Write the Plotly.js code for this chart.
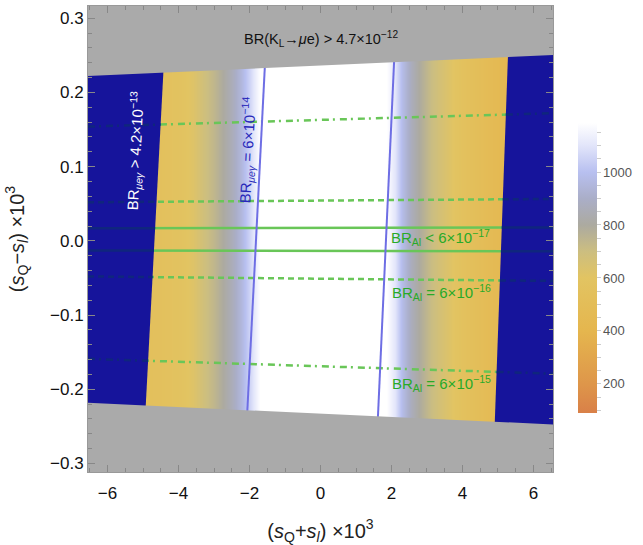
<!DOCTYPE html>
<html>
<head>
<meta charset="utf-8">
<script src="https://cdn.plot.ly/plotly-3.0.1.min.js"></script>
<style>html,body{margin:0;padding:0;background:#fff;}#chart{width:643px;height:545px;}</style>
</head>
<body>
<div id="chart"></div>
<script>
// ---------- data ----------
const xRange = [-6.55, 6.55];
const yRange = [-0.3115, 0.3165];

// density profile (value vs s_Q+s_l), constant along s_Q-s_l
const densityX = [-7, -5, -4.5, -3.9, -3.6, -3.3, -3.0, -2.75, -2.5, -2.25, -2.0, -1.8, -1.6, 0, 1.7, 1.9, 2.1, 2.3, 2.55, 2.8, 3.1, 3.5, 4.0, 4.6, 5.2, 7];
const densityZ = [540, 540, 550, 580, 620, 680, 740, 800, 865, 950, 1060, 1150, 1230, 1300, 1230, 1170, 1100, 980, 870, 790, 710, 640, 560, 490, 430, 400];

// excluded regions
const grayTopY = [0.222, 0.2505];       // boundary at left/right edges
const grayBottomY = [-0.2183, -0.2474];
const blueLeftEdgeX = [-4.43, -4.92];
const blueLeftEdgeY = [0.224, -0.219];
const blueRightEdgeX = [5.28, 4.91];
const blueRightEdgeY = [0.247, -0.244];

// BR(mu e gamma) = 6e-14 contours
const contourLeftX = [-1.57, -2.06];
const contourLeftY = [0.233, -0.227];
const contourRightX = [2.07, 1.62];
const contourRightY = [0.238, -0.235];

// BR(Al) lines: y at left and right edges
const alLabels = ['6e-15', '6e-16', '6e-17', '6e-17', '6e-16', '6e-15'];
const alLeftY = [0.154, 0.052, 0.017, -0.013, -0.048, -0.159];
const alRightY = [0.172, 0.0565, 0.018, -0.014, -0.054, -0.179];

const cbLabels = [200, 400, 600, 800, 1000];

// ---------- helpers ----------
const styleOf = {'6e-15': 'dashdot', '6e-16': 'dash', '6e-17': 'solid'};
const dashOf = {dashdot: '7px,4px,2px,5px', dash: '6px,4px', solid: 'solid'};
function lineY(i, x) {
  return alLeftY[i] + (alRightY[i] - alLeftY[i]) * (x - xRange[0]) / (xRange[1] - xRange[0]);
}
function edgeX(ex, ey, y) {
  return ex[0] + (ex[1] - ex[0]) * (y - ey[0]) / (ey[1] - ey[0]);
}
function crossX(i, ex, ey) {
  let x = edgeX(ex, ey, 0);
  for (let k = 0; k < 8; k++) x = edgeX(ex, ey, lineY(i, x));
  return x;
}
const yFar = [0.4, -0.4];

// colorbar tick marks every 50, labels every 200
const cbTickVals = [], cbTickText = [];
for (let v = 100; v <= 1150; v += 50) {
  cbTickVals.push(v);
  cbTickText.push(cbLabels.includes(v) ? String(v) : '');
}

const traces = [];
// density
traces.push({
  type: 'heatmap', x: densityX, y: [-0.4, 0.4], z: [densityZ, densityZ],
  zsmooth: 'best', zmin: 90, zmax: 1185, hoverinfo: 'skip',
  colorscale: [
    [0.0, 'rgb(217,128,72)'],
    [0.100, 'rgb(222,150,74)'],
    [0.283, 'rgb(229,182,78)'],
    [0.466, 'rgb(226,196,98)'],
    [0.557, 'rgb(204,190,128)'],
    [0.648, 'rgb(172,170,160)'],
    [0.740, 'rgb(170,174,200)'],
    [0.831, 'rgb(184,192,240)'],
    [0.922, 'rgb(226,229,250)'],
    [1.0, 'rgb(255,255,255)']
  ],
  colorbar: {
    thickness: 19, thicknessmode: 'pixels', len: 290, lenmode: 'pixels',
    x: 1.054, xanchor: 'left', y: 0.4377, yanchor: 'middle', xpad: 0, ypad: 0,
    outlinewidth: 0, tickmode: 'array', tickvals: cbTickVals, ticktext: cbTickText,
    ticks: 'outside', ticklen: 4, tickcolor: '#ccc',
    tickfont: {family: 'Liberation Sans, Arial, sans-serif', size: 13, color: '#555'}
  }
});
// green lines (full width, covered by blue)
alLabels.forEach((lab, i) => {
  traces.push({type: 'scatter', mode: 'lines', x: xRange, y: [alLeftY[i], alRightY[i]],
    line: {color: 'rgb(105,198,88)', width: 2.5, dash: dashOf[styleOf[lab]]}, hoverinfo: 'skip', showlegend: false});
});
// blue regions
const bl = yFar.map(y => edgeX(blueLeftEdgeX, blueLeftEdgeY, y));
traces.push({type: 'scatter', mode: 'lines', fill: 'toself', fillcolor: 'rgb(22,20,155)', line: {width: 0},
  x: [xRange[0] - 1, bl[0], bl[1], xRange[0] - 1], y: [yFar[0], yFar[0], yFar[1], yFar[1]], hoverinfo: 'skip', showlegend: false});
const br = yFar.map(y => edgeX(blueRightEdgeX, blueRightEdgeY, y));
traces.push({type: 'scatter', mode: 'lines', fill: 'toself', fillcolor: 'rgb(22,20,155)', line: {width: 0},
  x: [xRange[1] + 1, br[0], br[1], xRange[1] + 1], y: [yFar[0], yFar[0], yFar[1], yFar[1]], hoverinfo: 'skip', showlegend: false});
// dark parts of lines inside blue
alLabels.forEach((lab, i) => {
  const xl = crossX(i, blueLeftEdgeX, blueLeftEdgeY);
  const xr = crossX(i, blueRightEdgeX, blueRightEdgeY);
  [[xRange[0], xl], [xr, xRange[1]]].forEach(seg => {
    traces.push({type: 'scatter', mode: 'lines', x: seg, y: seg.map(x => lineY(i, x)),
      line: {color: 'rgb(15,38,125)', width: 2.5, dash: dashOf[styleOf[lab]]}, hoverinfo: 'skip', showlegend: false});
  });
});
// contours
[[contourLeftX, contourLeftY], [contourRightX, contourRightY]].forEach(([cx, cy]) => {
  traces.push({type: 'scatter', mode: 'lines', x: yFar.map(y => edgeX(cx, cy, y)), y: yFar,
    line: {color: 'rgb(110,110,228)', width: 2}, hoverinfo: 'skip', showlegend: false});
});
// gray regions
traces.push({type: 'scatter', mode: 'lines', fill: 'toself', fillcolor: 'rgb(170,170,170)', line: {width: 0},
  x: [xRange[0], xRange[1], xRange[1], xRange[0]], y: [grayTopY[0], grayTopY[1], 0.5, 0.5], hoverinfo: 'skip', showlegend: false});
traces.push({type: 'scatter', mode: 'lines', fill: 'toself', fillcolor: 'rgb(170,170,170)', line: {width: 0},
  x: [xRange[0], xRange[1], xRange[1], xRange[0]], y: [grayBottomY[0], grayBottomY[1], -0.5, -0.5], hoverinfo: 'skip', showlegend: false});

const FONT = 'Liberation Sans, Arial, sans-serif';
const green = 'rgb(40,170,40)';
const ann = (x, y, text, color, size, angle) => ({x, y, xref: 'x', yref: 'y', text, showarrow: false,
  font: {family: FONT, size, color}, textangle: angle || 0});

const layout = {
  width: 643, height: 545,
  margin: {l: 88, r: 90, t: 6, b: 73},
  paper_bgcolor: '#fff', plot_bgcolor: '#fff',
  showlegend: false,
  font: {family: FONT, color: '#000'},
  xaxis: {
    range: xRange, dtick: 2, tick0: 0, ticks: 'inside', ticklen: 7, tickcolor: '#888', tickwidth: 1,
    minor: {dtick: 0.5, ticks: 'inside', ticklen: 4, tickcolor: '#888'},
    showline: true, linecolor: '#999', linewidth: 1, mirror: 'ticks', showgrid: false, zeroline: false,
    tickfont: {size: 17, color: '#111'}, ticklabelstandoff: 6,
    title: {text: '(<i>s</i><sub>Q</sub>+<i>s</i><sub><i>l</i></sub>) ×10<sup>3</sup>', font: {size: 20, color: '#222'}, standoff: 27}
  },
  yaxis: {
    range: yRange, dtick: 0.1, tick0: 0, tickformat: '.1f', ticks: 'inside', ticklen: 7, tickcolor: '#888', tickwidth: 1,
    minor: {dtick: 0.02, ticks: 'inside', ticklen: 4, tickcolor: '#888'},
    showline: true, linecolor: '#999', linewidth: 1, mirror: 'ticks', showgrid: false, zeroline: false,
    tickfont: {size: 17, color: '#111'},
    title: {text: '(<i>s</i><sub>Q</sub>−<i>s</i><sub><i>l</i></sub>) ×10<sup>3</sup>', font: {size: 20, color: '#222'}, standoff: 20}
  },
  annotations: [
    ann(0.0, 0.272, 'BR(K<sub>L</sub>→<i>μ</i>e) > 4.7×10<sup>−12</sup>', '#111', 14.5),
    ann(-5.23, 0.122, 'BR<sub><i>μeγ</i></sub> > 4.2×10<sup>−13</sup>', '#fff', 15, -87),
    ann(-2.07, 0.122, 'BR<sub><i>μeγ</i></sub> = 6×10<sup>−14</sup>', 'rgb(40,40,185)', 15, -87),
    ann(3.39, 0.005, 'BR<sub>Al</sub> < 6×10<sup>−17</sup>', green, 15),
    ann(3.42, -0.070, 'BR<sub>Al</sub> = 6×10<sup>−16</sup>', green, 15),
    ann(3.42, -0.192, 'BR<sub>Al</sub> = 6×10<sup>−15</sup>', green, 15)
  ]
};

Plotly.newPlot('chart', traces, layout, {displayModeBar: false, staticPlot: true});
</script>
</body>
</html>
